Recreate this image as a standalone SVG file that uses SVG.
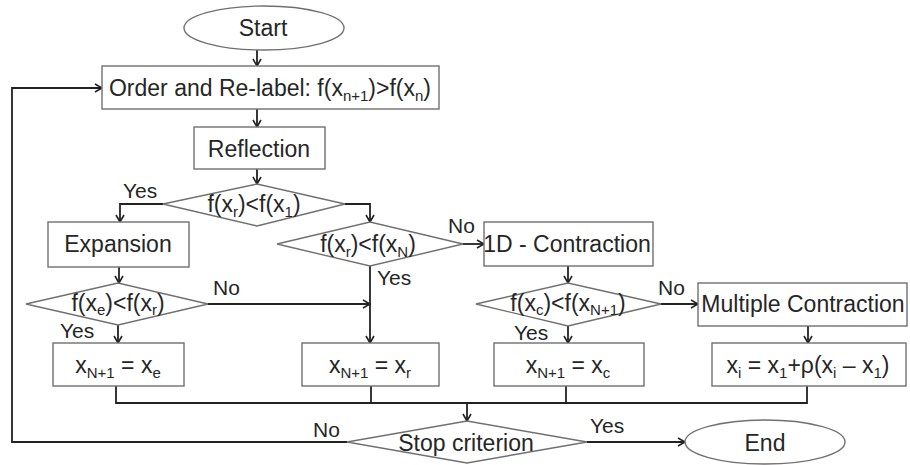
<svg xmlns="http://www.w3.org/2000/svg" width="910" height="465" viewBox="0 0 910 465">
<defs>
<marker id="arr" viewBox="0 0 10 10" refX="9" refY="5" markerWidth="10" markerHeight="10" markerUnits="userSpaceOnUse" orient="auto">
<path d="M2,1 L9,5 L2,9" fill="none" stroke="#222" stroke-width="1.6"/>
</marker>
</defs>
<style>
.sh{fill:#fff;stroke:#707070;stroke-width:1.4}
.t{font-family:"Liberation Sans",Arial,sans-serif;font-size:23px;fill:#262626;text-anchor:middle}
.lb{font-family:"Liberation Sans",Arial,sans-serif;font-size:21px;fill:#262626}
.s{font-size:15px}
.c{fill:none;stroke:#222;stroke-width:1.8}
.ca{fill:none;stroke:#222;stroke-width:1.8;marker-end:url(#arr)}
</style>
<rect width="910" height="465" fill="#fff"/>
<g id="connectors">
<line class="ca" x1="257" y1="50" x2="257" y2="66"/>
<line class="ca" x1="257" y1="109" x2="257" y2="127"/>
<line class="ca" x1="257" y1="169" x2="257" y2="184"/>
<polyline class="ca" points="163,204 120,204 120,222"/>
<polyline class="ca" points="345,204 370,204 370,222"/>
<line class="ca" x1="463" y1="244" x2="484" y2="244"/>
<line class="ca" x1="370" y1="266" x2="370" y2="343"/>
<line class="ca" x1="119" y1="267" x2="119" y2="283"/>
<line class="ca" x1="208" y1="304" x2="370" y2="304"/>
<line class="ca" x1="118" y1="325" x2="118" y2="343"/>
<line class="ca" x1="568" y1="266" x2="568" y2="283"/>
<line class="ca" x1="661" y1="304" x2="698" y2="304"/>
<line class="ca" x1="568" y1="326" x2="568" y2="343"/>
<line class="ca" x1="808" y1="326" x2="808" y2="343"/>
<polyline class="c" points="116,386 116,403 807,403 807,386"/>
<line class="c" x1="371" y1="386" x2="371" y2="403"/>
<line class="c" x1="566" y1="386" x2="566" y2="403"/>
<line class="ca" x1="467" y1="403" x2="467" y2="421"/>
<polyline class="ca" points="347,442 12,442 12,88 102,88"/>
<line class="ca" x1="587" y1="442" x2="685" y2="442"/>
<text class="lb" x="123" y="198">Yes</text>
<text class="lb" x="448" y="233">No</text>
<text class="lb" x="377" y="285">Yes</text>
<text class="lb" x="213" y="295">No</text>
<text class="lb" x="60" y="338">Yes</text>
<text class="lb" x="658" y="295">No</text>
<text class="lb" x="514" y="340">Yes</text>
<text class="lb" x="313" y="437">No</text>
<text class="lb" x="590" y="433">Yes</text>
</g>
<g id="start">
<ellipse class="sh" cx="264" cy="28" rx="80" ry="22"/>
<text class="t" x="263" y="36">Start</text>
</g>
<g id="order">
<rect class="sh" x="102" y="66" width="337" height="43"/>
<text class="t" x="270" y="96">Order and Re-label: f(x<tspan class="s" dy="5">n+1</tspan><tspan dy="-5">)&gt;f(x</tspan><tspan class="s" dy="5">n</tspan><tspan dy="-5">)</tspan></text>
</g>
<g id="reflection">
<rect class="sh" x="194" y="127" width="131" height="42"/>
<text class="t" x="259" y="157">Reflection</text>
</g>
<g id="d1">
<polygon class="sh" points="163,204 257,184 345,204 257,226"/>
<text class="t" x="254" y="212">f(x<tspan class="s" dy="5">r</tspan><tspan dy="-5">)&lt;f(x</tspan><tspan class="s" dy="5">1</tspan><tspan dy="-5">)</tspan></text>
</g>
<g id="expansion">
<rect class="sh" x="48" y="222" width="141" height="45"/>
<text class="t" x="118" y="252">Expansion</text>
</g>
<g id="d2">
<polygon class="sh" points="277,244 370,222 463,244 370,266"/>
<text class="t" x="368" y="252">f(x<tspan class="s" dy="5">r</tspan><tspan dy="-5">)&lt;f(x</tspan><tspan class="s" dy="5">N</tspan><tspan dy="-5">)</tspan></text>
</g>
<g id="contraction1d">
<rect class="sh" x="484" y="222" width="169" height="44"/>
<text class="t" x="567" y="252">1D - Contraction</text>
</g>
<g id="d4">
<polygon class="sh" points="26,304 118,283 208,304 118,325"/>
<text class="t" x="118" y="311">f(x<tspan class="s" dy="4">e</tspan><tspan dy="-4">)&lt;f(x</tspan><tspan class="s" dy="4">r</tspan><tspan dy="-4">)</tspan></text>
</g>
<g id="d3">
<polygon class="sh" points="476,304 568,283 661,304 568,326"/>
<text class="t" x="568" y="311">f(x<tspan class="s" dy="4">c</tspan><tspan dy="-4">)&lt;f(x</tspan><tspan class="s" dy="4">N+1</tspan><tspan dy="-4">)</tspan></text>
</g>
<g id="multiple">
<rect class="sh" x="698" y="283" width="209" height="43"/>
<text class="t" x="803" y="312">Multiple Contraction</text>
</g>
<g id="xe">
<rect class="sh" x="53" y="343" width="131" height="43"/>
<text class="t" x="118" y="373">x<tspan class="s" dy="5">N+1</tspan><tspan dy="-5"> = x</tspan><tspan class="s" dy="5">e</tspan></text>
</g>
<g id="xr">
<rect class="sh" x="302" y="343" width="137" height="43"/>
<text class="t" x="370" y="373">x<tspan class="s" dy="5">N+1</tspan><tspan dy="-5"> = x</tspan><tspan class="s" dy="5">r</tspan></text>
</g>
<g id="xc">
<rect class="sh" x="494" y="343" width="150" height="43"/>
<text class="t" x="568" y="373">x<tspan class="s" dy="5">N+1</tspan><tspan dy="-5"> = x</tspan><tspan class="s" dy="5">c</tspan></text>
</g>
<g id="xi">
<rect class="sh" x="712" y="343" width="194" height="43"/>
<text class="t" x="808" y="373">x<tspan class="s" dy="5">i</tspan><tspan dy="-5"> = x</tspan><tspan class="s" dy="5">1</tspan><tspan dy="-5">+ρ(x</tspan><tspan class="s" dy="5">i</tspan><tspan dy="-5"> – x</tspan><tspan class="s" dy="5">1</tspan><tspan dy="-5">)</tspan></text>
</g>
<g id="stop">
<polygon class="sh" points="347,442 467,421 587,442 467,463"/>
<text class="t" x="466" y="451">Stop criterion</text>
</g>
<g id="end">
<ellipse class="sh" cx="765" cy="442" rx="80" ry="22"/>
<text class="t" x="765" y="451">End</text>
</g>
</svg>
